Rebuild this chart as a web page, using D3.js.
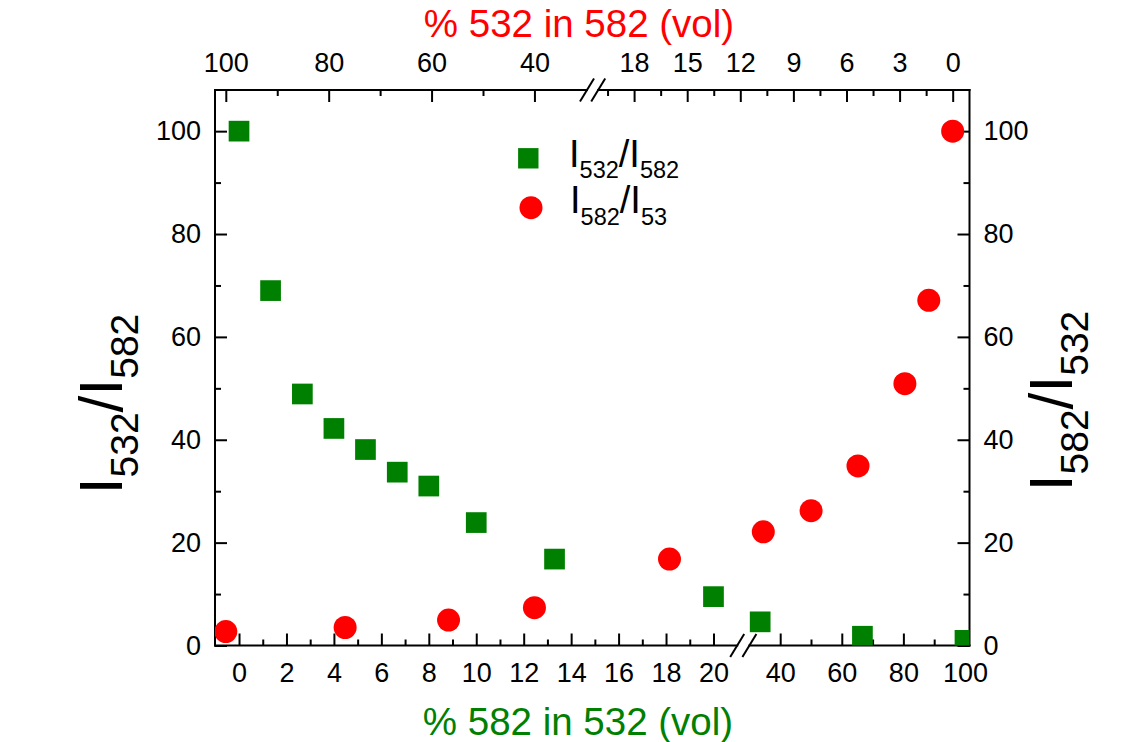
<!DOCTYPE html>
<html><head><meta charset="utf-8">
<script src="https://cdn.jsdelivr.net/npm/d3@7"></script>
<style>
html,body{margin:0;padding:0;background:#fff;}
svg{display:block;}
text{font-family:"Liberation Sans",Arial,Helvetica,sans-serif;}
</style></head>
<body>
<svg id="chart" width="1145" height="742"></svg>
<script>
// ---- data ----
// green squares: I532/I582 vs % 582 in 532 (bottom axis)
const greenX = [0, 1.33, 2.67, 4, 5.33, 6.67, 8, 10, 13.3, 20, 33.5, 66.7, 100];
const greenY = [100, 69.0, 48.9, 42.2, 38.1, 33.7, 31.0, 23.9, 16.8, 9.5, 4.6, 1.8, 1.0];
// red circles: I582/I532 vs % 532 in 582 (top axis)
const redX = [100, 76.8, 56.7, 40, 16, 10.7, 8, 5.35, 2.7, 1.35, 0];
const redY = [2.7, 3.5, 4.95, 7.35, 16.8, 22.1, 26.2, 34.9, 50.9, 67.1, 100];

const bottomMajor = [0, 2, 4, 6, 8, 10, 12, 14, 16, 18, 20, 40, 60, 80, 100];
const bottomMinor = [1, 3, 5, 7, 9, 11, 13, 15, 17, 19, 50, 70, 90];
const topMajor = [100, 80, 60, 40, 18, 15, 12, 9, 6, 3, 0];
const topMinor = [90, 70, 50, 19.5, 16.5, 13.5, 10.5, 7.5, 4.5, 1.5];
const yMajor = [0, 20, 40, 60, 80, 100];
const yMinor = [10, 30, 50, 70, 90];

const greenColor = "#008000", redColor = "#ff0000";

// ---- layout ----
const L = 215, R = 969.5, T = 90, B = 645.5;
const svg = d3.select("#chart");

const xBottom = d3.scaleLinear().domain([-1, 21, 30, 101.5]).range([215.3, 737.2, 749.4, 969.6]);
const xTop = d3.scaleLinear().domain([102.1, 29.2, 20, -0.95]).range([215, 590, 598.7, 969.5]);
const y = d3.scaleLinear().domain([0, 108]).range([B, T]);

const fontTick = 27;

function styleAxis(g) {
  g.select(".domain").remove();
  g.selectAll(".tick line").attr("stroke", "#000").attr("stroke-width", 2);
  g.selectAll(".tick text").attr("fill", "#000").style("font-size", fontTick + "px")
    .style("font-family", '"Liberation Sans",Arial,sans-serif');
}

// bottom axis
svg.append("g").attr("transform", `translate(0,${B})`)
  .call(d3.axisBottom(xBottom).tickValues(bottomMajor).tickSize(-12).tickPadding(17).tickFormat(d3.format("d")))
  .call(styleAxis);
svg.append("g").attr("transform", `translate(0,${B})`)
  .call(d3.axisBottom(xBottom).tickValues(bottomMinor).tickSize(-6).tickFormat(""))
  .call(styleAxis);
// top axis
svg.append("g").attr("transform", `translate(0,${T})`)
  .call(d3.axisTop(xTop).tickValues(topMajor).tickSize(-12).tickPadding(18).tickFormat(d3.format("d")))
  .call(styleAxis);
svg.append("g").attr("transform", `translate(0,${T})`)
  .call(d3.axisTop(xTop).tickValues(topMinor).tickSize(-6).tickFormat(""))
  .call(styleAxis);
// left axis
svg.append("g").attr("transform", `translate(${L},0)`)
  .call(d3.axisLeft(y).tickValues(yMajor).tickSize(-12).tickPadding(14).tickFormat(d3.format("d")))
  .call(styleAxis);
svg.append("g").attr("transform", `translate(${L},0)`)
  .call(d3.axisLeft(y).tickValues(yMinor).tickSize(-6).tickFormat(""))
  .call(styleAxis);
// right axis
svg.append("g").attr("transform", `translate(${R},0)`)
  .call(d3.axisRight(y).tickValues(yMajor).tickSize(-12).tickPadding(14).tickFormat(d3.format("d")))
  .call(styleAxis);
svg.append("g").attr("transform", `translate(${R},0)`)
  .call(d3.axisRight(y).tickValues(yMinor).tickSize(-6).tickFormat(""))
  .call(styleAxis);

// frame with breaks
const frame = svg.append("g").attr("stroke", "#000").attr("stroke-width", 2).attr("fill", "none").attr("stroke-linecap", "square");
frame.append("line").attr("x1", L).attr("y1", T).attr("x2", L).attr("y2", B);
frame.append("line").attr("x1", R).attr("y1", T).attr("x2", R).attr("y2", B);
// bottom segments
frame.append("line").attr("x1", L).attr("y1", B).attr("x2", xBottom(21)).attr("y2", B);
frame.append("line").attr("x1", xBottom(30)).attr("y1", B).attr("x2", R).attr("y2", B);
// top segments
frame.append("line").attr("x1", L).attr("y1", T).attr("x2", xTop(29.2) - 3).attr("y2", T);
frame.append("line").attr("x1", xTop(20) - 0.5).attr("y1", T).attr("x2", R).attr("y2", T);

// break marks
const brk = svg.append("g").attr("stroke", "#000").attr("stroke-width", 2);
function slash(cx, cy) {
  brk.append("line").attr("x1", cx - 7).attr("y1", cy + 11.5).attr("x2", cx + 7).attr("y2", cy - 11.5);
}
slash(xBottom(21), B);
slash(xBottom(30), B);
slash(xTop(29.2) - 3, T);
slash(xTop(20) - 0.5, T);

// clip
svg.append("clipPath").attr("id", "plotclip").append("rect")
  .attr("x", L).attr("y", T).attr("width", R - L).attr("height", B - T);

const plot = svg.append("g").attr("clip-path", "url(#plotclip)");
const sq = 20.7;
plot.selectAll("rect.g").data(greenX.map((d, i) => [d, greenY[i]])).enter()
  .append("rect").attr("class", "g")
  .attr("x", d => xBottom(d[0]) - sq / 2).attr("y", d => y(d[1]) - sq / 2)
  .attr("width", sq).attr("height", sq).attr("fill", greenColor);
plot.selectAll("circle.r").data(redX.map((d, i) => [d, redY[i]])).enter()
  .append("circle").attr("class", "r")
  .attr("cx", d => xTop(d[0])).attr("cy", d => y(d[1]))
  .attr("r", 11.5).attr("fill", redColor);

// legend
const leg = svg.append("g");
leg.append("rect").attr("x", 528.3 - 10.2).attr("y", 158.3 - 10.2).attr("width", 20.4).attr("height", 20.4).attr("fill", greenColor);
leg.append("circle").attr("cx", 531).attr("cy", 207.7).attr("r", 11.5).attr("fill", redColor);
function ratioText(parent, x, yy, a, b, big, small, shift) {
  const t = parent.append("text").attr("x", x).attr("y", yy).attr("fill", "#000").style("font-size", big + "px");
  t.append("tspan").text("I");
  t.append("tspan").attr("dy", shift).style("font-size", small + "px").text(a);
  t.append("tspan").attr("dy", -shift).style("font-size", big + "px").text("/I");
  t.append("tspan").attr("dy", shift).style("font-size", small + "px").text(b);
  return t;
}
ratioText(leg, 569, 167.3, "532", "582", 38, 23.5, 11);
ratioText(leg, 570, 212.5, "582", "53", 38, 23.5, 12);

// axis titles
svg.append("text").attr("x", 578).attr("y", 735).attr("text-anchor", "middle")
  .attr("fill", greenColor).style("font-size", "38.5px").text("% 582 in 532 (vol)");
svg.append("text").attr("x", 579).attr("y", 37).attr("text-anchor", "middle")
  .attr("fill", redColor).style("font-size", "38.5px").text("% 532 in 582 (vol)");

const lt = ratioText(svg.append("g").attr("transform", "translate(122.3,404) rotate(-90)"), 0, 0, "532", "582", 60.5, 39, 16);
lt.attr("text-anchor", "middle");
const rt = ratioText(svg.append("g").attr("transform", "translate(1072.3,401) rotate(-90)"), 0, 0, "582", "532", 60.5, 39, 16);
rt.attr("text-anchor", "middle");
</script>
</body></html>
